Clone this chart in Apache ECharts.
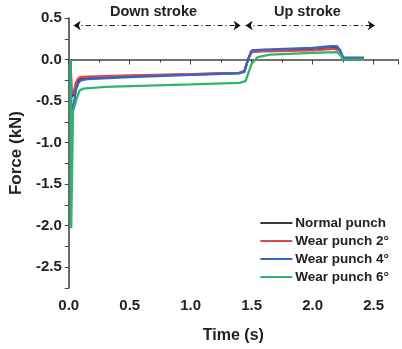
<!DOCTYPE html>
<html>
<head>
<meta charset="utf-8">
<script src="https://cdn.jsdelivr.net/npm/echarts@6/dist/echarts.min.js"></script>
<style>html,body{margin:0;padding:0;background:#fff}#c{width:402px;height:349px}</style>
</head>
<body>
<div id="c"></div>
<script>
// ---- data ----
const seriesNames = ['Normal punch', 'Wear punch 2°', 'Wear punch 4°', 'Wear punch 6°'];
const timeNormal = [0.015, 0.022, 0.04, 0.06, 0.08, 0.1, 0.15, 0.5, 1.0, 1.40, 1.44, 1.47, 1.50, 1.6, 2.0, 2.18, 2.22, 2.25, 2.42];
const forceNormal = [0, -0.45, -0.42, -0.3, -0.25, -0.235, -0.22, -0.2, -0.18, -0.16, -0.14, 0.0, 0.1, 0.11, 0.12, 0.14, 0.12, 0.02, 0.02];
const time2 = [0.015, 0.022, 0.04, 0.06, 0.08, 0.1, 0.15, 0.5, 1.0, 1.40, 1.44, 1.47, 1.50, 1.6, 2.0, 2.17, 2.22, 2.25, 2.42];
const force2 = [0, -0.42, -0.4, -0.27, -0.22, -0.21, -0.205, -0.19, -0.175, -0.16, -0.14, 0.0, 0.09, 0.1, 0.11, 0.13, 0.11, 0.01, 0.01];
const time4 = [0.015, 0.022, 0.04, 0.06, 0.08, 0.1, 0.15, 0.5, 1.0, 1.40, 1.44, 1.47, 1.50, 1.6, 2.0, 2.15, 2.2, 2.23, 2.25, 2.42];
const force4 = [0, -0.6, -0.55, -0.36, -0.28, -0.25, -0.235, -0.21, -0.185, -0.165, -0.15, 0.0, 0.11, 0.12, 0.14, 0.16, 0.16, 0.1, 0.02, 0.02];
const time6 = [0.015, 0.02, 0.035, 0.05, 0.07, 0.09, 0.12, 0.3, 1.0, 1.40, 1.45, 1.50, 1.55, 1.65, 2.0, 2.2, 2.23, 2.25, 2.42];
const force6 = [0, -2.03, -0.62, -0.6, -0.45, -0.37, -0.35, -0.33, -0.30, -0.28, -0.26, -0.05, 0.03, 0.06, 0.08, 0.09, 0.05, 0.0, 0.0];
const colors = ['#3a3a3a', '#e04848', '#3566c4', '#2fb36e'];
// stroke annotation (time, force)
const strokeY = 0.41;
const downStroke = [0.04, 1.41];
const upStroke = [1.45, 2.51];
const divider = [1.43, 0.32, 0.6];
const xTicks = {min: 0, max: 2.7, interval: 0.5};
const yTicks = {min: -2.75, max: 0.5, interval: 0.25};

function pairs(t, v) { return t.map((x, i) => [x, v[i]]); }

const font = '"Liberation Sans", Arial, sans-serif';
const chart = echarts.init(document.getElementById('c'), null, {renderer: 'canvas'});
const lineSeries = [
  [timeNormal, forceNormal], [time2, force2], [time4, force4], [time6, force6]
].map((d, i) => ({
  name: seriesNames[i], type: 'line', data: pairs(d[0], d[1]), showSymbol: false,
  lineStyle: {width: 2.3, color: colors[i]}, itemStyle: {color: colors[i]}, clip: false,
  animation: false, z: 2 + i
}));

const arrowStyle = {color: '#111', width: 1.2, type: [5, 3, 1, 3]};
lineSeries.push({
  type: 'line', data: [], clip: false, silent: true, animation: false,
  markLine: {
    silent: true, animation: false, symbol: ['arrow', 'arrow'], symbolSize: [7, 7],
    label: {show: false}, lineStyle: arrowStyle,
    data: [
      [{coord: [downStroke[0], strokeY]}, {coord: [downStroke[1], strokeY]}],
      [{coord: [upStroke[0], strokeY]}, {coord: [upStroke[1], strokeY]}],
      [{coord: [divider[0], divider[1]], symbol: 'none'}, {coord: [divider[0], divider[2]], symbol: 'none', lineStyle: {type: [4, 3], color: '#111', width: 1.2}}]
    ]
  }
});

chart.setOption({
  animation: false,
  grid: {left: 67, right: 4, top: 18, bottom: 60},
  xAxis: {
    type: 'value', min: xTicks.min, max: xTicks.max, interval: xTicks.interval,
    name: 'Time (s)', nameLocation: 'middle', nameGap: 40,
    nameTextStyle: {fontFamily: font, fontWeight: 'bold', fontSize: 16, color: '#222'},
    axisLine: {lineStyle: {color: '#444', width: 1.6}},
    axisTick: {show: true, length: 5, lineStyle: {color: '#444'}},
    minorTick: {show: true, splitNumber: 2, length: 3, lineStyle: {color: '#444'}},
    splitLine: {show: false},
    axisLabel: {fontFamily: font, fontWeight: 'bold', fontSize: 15, color: '#222', margin: 10,
      formatter: v => (Math.abs(v * 2 - Math.round(v * 2)) < 1e-6 && v <= 2.5) ? v.toFixed(1) : ''}
  },
  yAxis: {
    type: 'value', min: yTicks.min, max: yTicks.max, interval: yTicks.interval,
    name: 'Force (kN)', nameLocation: 'middle', nameGap: 39,
    nameTextStyle: {fontFamily: font, fontWeight: 'bold', fontSize: 17, color: '#222'},
    axisLine: {show: true, lineStyle: {color: '#444', width: 1.6}},
    axisTick: {show: true, length: 4, lineStyle: {color: '#444'}},
    splitLine: {show: false},
    axisLabel: {fontFamily: font, fontWeight: 'bold', fontSize: 15, color: '#222', margin: 7,
      formatter: v => (Math.abs(v * 2 - Math.round(v * 2)) < 1e-6) ? v.toFixed(1) : ''}
  },
  legend: {
    data: seriesNames, orient: 'vertical', right: 8, top: 211, itemGap: 4,
    itemWidth: 32, itemHeight: 2, icon: 'rect',
    textStyle: {fontFamily: font, fontWeight: 'bold', fontSize: 13.5, color: '#222', padding: [0, 0, 0, -2]}
  },
  graphic: [
    {type: 'text', left: 110, top: 4, style: {text: 'Down stroke', font: 'bold 14.5px ' + font, fill: '#222'}},
    {type: 'text', left: 274, top: 4, style: {text: 'Up stroke', font: 'bold 14.5px ' + font, fill: '#222'}}
  ],
  series: lineSeries
});
</script>
</body>
</html>
